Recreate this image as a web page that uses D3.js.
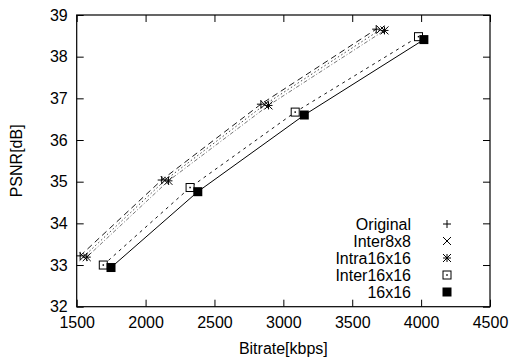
<!DOCTYPE html>
<html><head><meta charset="utf-8">
<script src="https://cdn.jsdelivr.net/npm/d3@7"></script>
<style>body{margin:0;background:#fff}svg text{font-family:"Liberation Sans",Arial,sans-serif;}</style>
</head><body>
<script>
const seriesNames = ["Original","Inter8x8","Intra16x16","Inter16x16","16x16"];
const originalX = [1525, 2117, 2837, 3674];
const originalY = [33.22, 35.04, 36.86, 38.66];
const inter8x8X = [1550, 2140, 2865, 3705];
const inter8x8Y = [33.2, 35.03, 36.85, 38.65];
const intra16x16X = [1573, 2166, 2892, 3734];
const intra16x16Y = [33.19, 35.02, 36.83, 38.63];
const inter16x16X = [1693, 2323, 3086, 3981];
const inter16x16Y = [33.0, 34.86, 36.67, 38.48];
const b16x16X = [1749, 2379, 3152, 4020];
const b16x16Y = [32.94, 34.76, 36.6, 38.41];
const xTicks = [1500,2000,2500,3000,3500,4000,4500];
const yTicks = [32,33,34,35,36,37,38,39];

const W=512,H=363,FS=16;
const m={l:76.7,r:22,t:15,b:56.3};
const svg=d3.select("body").append("svg").attr("width",W).attr("height",H);
const x=d3.scaleLinear().domain([1500,4500]).range([m.l,W-m.r]);
const y=d3.scaleLinear().domain([32,39]).range([H-m.b,m.t]);

const series=[
 {name:seriesNames[0],xs:originalX,ys:originalY,dash:"6,4",stroke:"#000",w:0.9,sym:"plus"},
 {name:seriesNames[1],xs:inter8x8X,ys:inter8x8Y,dash:"1.5,2.5",stroke:"#333",w:0.9,sym:"cross"},
 {name:seriesNames[2],xs:intra16x16X,ys:intra16x16Y,dash:"4,2,1,2",stroke:"#555",w:0.8,sym:"star"},
 {name:seriesNames[3],xs:inter16x16X,ys:inter16x16Y,dash:"3,4",stroke:"#000",w:0.9,sym:"box"},
 {name:seriesNames[4],xs:b16x16X,ys:b16x16Y,dash:null,stroke:"#000",w:1,sym:"fbox"}
];

const g=svg.append("g");
const fmt=d3.format("d");
const xb=d3.axisBottom(x).tickValues(xTicks).tickSizeInner(-7).tickSizeOuter(0).tickPadding(10).tickFormat(fmt);
const xt=d3.axisTop(x).tickValues(xTicks).tickSizeInner(-7).tickSizeOuter(0).tickFormat("");
const yl=d3.axisLeft(y).tickValues(yTicks).tickSizeInner(-7).tickSizeOuter(0).tickPadding(9).tickFormat(fmt);
const yr=d3.axisRight(y).tickValues(yTicks).tickSizeInner(-7).tickSizeOuter(0).tickFormat("");
function style(sel){sel.selectAll("path").remove();sel.selectAll("line").attr("stroke","#000");sel.selectAll("text").attr("font-size",FS).attr("fill","#000").attr("font-family","Liberation Sans, Arial, sans-serif");}
g.append("g").attr("transform",`translate(0,${H-m.b})`).call(xb).call(style);
g.append("g").attr("transform",`translate(0,${m.t})`).call(xt).call(style);
g.append("g").attr("transform",`translate(${m.l},0)`).call(yl).call(style);
g.append("g").attr("transform",`translate(${W-m.r},0)`).call(yr).call(style);
svg.append("rect").attr("x",m.l).attr("y",m.t).attr("width",W-m.r-m.l).attr("height",H-m.b-m.t)
 .attr("fill","none").attr("stroke","#000").attr("stroke-width",1.2);

svg.append("text").attr("x",(m.l+W-m.r)/2).attr("y",354).attr("text-anchor","middle").attr("font-size",FS).text("Bitrate[kbps]");
svg.append("text").attr("transform",`translate(22,${(m.t+H-m.b)/2}) rotate(-90)`).attr("text-anchor","middle").attr("font-size",FS).text("PSNR[dB]");

function drawSym(sel,sym,cx,cy){
  const s=4;
  if(sym==="plus"){
    sel.append("path").attr("d",`M${cx-s},${cy}H${cx+s}M${cx},${cy-s}V${cy+s}`).attr("stroke","#000").attr("stroke-width",1);
  }else if(sym==="cross"){
    sel.append("path").attr("d",`M${cx-s},${cy-s}L${cx+s},${cy+s}M${cx-s},${cy+s}L${cx+s},${cy-s}`).attr("stroke","#000").attr("stroke-width",1);
  }else if(sym==="star"){
    sel.append("path").attr("d",`M${cx-s},${cy}H${cx+s}M${cx},${cy-s}V${cy+s}M${cx-s},${cy-s}L${cx+s},${cy+s}M${cx-s},${cy+s}L${cx+s},${cy-s}`).attr("stroke","#000").attr("stroke-width",1);
  }else if(sym==="box"){
    sel.append("rect").attr("x",cx-s).attr("y",cy-s).attr("width",2*s).attr("height",2*s).attr("fill","#fff").attr("stroke","#000").attr("stroke-width",1);
    sel.append("rect").attr("x",cx-0.75).attr("y",cy-0.75).attr("width",1.5).attr("height",1.5).attr("fill","#000");
  }else{
    sel.append("rect").attr("x",cx-s-0.5).attr("y",cy-s-0.5).attr("width",2*s+1).attr("height",2*s+1).attr("fill","#000");
  }
}

const line=d3.line().x(d=>x(d[0])).y(d=>y(d[1]));
series.forEach(s=>{
  const pts=s.xs.map((v,i)=>[v,s.ys[i]]);
  svg.append("path").attr("d",line(pts)).attr("fill","none").attr("stroke",s.stroke)
    .attr("stroke-width",s.w).attr("stroke-dasharray",s.dash);
});
series.forEach(s=>{
  const gg=svg.append("g");
  s.xs.forEach((v,i)=>drawSym(gg,s.sym,x(v),y(s.ys[i])));
});

series.forEach((s,i)=>{
  const ly=224+i*17;
  svg.append("text").attr("x",411).attr("y",ly+5.5).attr("text-anchor","end").attr("font-size",FS).text(s.name);
  drawSym(svg.append("g"),s.sym,447,ly);
});
</script>
</body></html>
